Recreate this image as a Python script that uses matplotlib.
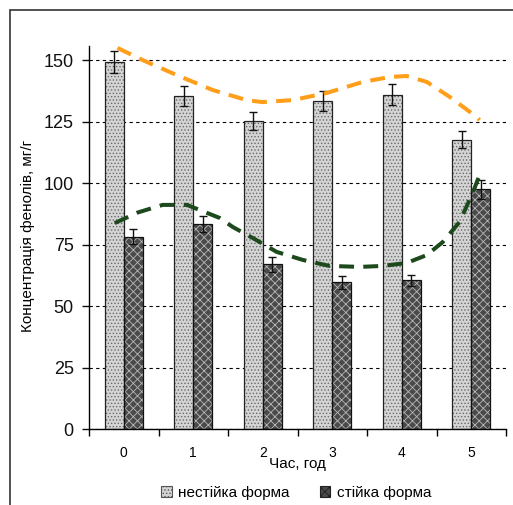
import numpy as np
import matplotlib
matplotlib.use('Agg')
import matplotlib.pyplot as plt
from matplotlib.patches import Patch, Rectangle

plt.rcParams['font.family'] = ['Liberation Sans', 'DejaVu Sans']
plt.rcParams['hatch.linewidth'] = 0.6

# ── Data ────────────────────────────────────────────────────────────────────
hours = [0, 1, 2, 3, 4, 5]
unstable = [149.2, 135.5, 125.2, 133.3, 135.9, 117.6]
unstable_err = [4.5, 4.0, 3.5, 4.0, 4.3, 3.5]
stable = [78.2, 83.3, 67.0, 59.6, 60.4, 97.4]
stable_err = [3.0, 3.4, 3.0, 2.6, 2.3, 3.8]

# trend lines
trend_unst_x = [-0.09, 0.27, 0.76, 1.28, 1.77, 1.99, 2.43, 2.92, 3.44, 3.83, 4.07, 4.36, 4.69, 5.08, 5.12]
trend_unst_y = [154.9, 150.0, 143.9, 137.8, 133.7, 132.9, 133.7, 136.6, 141.1, 143.1, 143.5, 141.1, 135.0, 126.8, 125.6]
trend_st_x = [-0.13, 0.2, 0.56, 0.91, 1.38, 1.57, 1.86, 2.20, 2.58, 2.96, 3.40, 3.73, 4.07, 4.36, 4.59, 4.83, 5.02, 5.12]
trend_st_y = [83.7, 88.0, 91.1, 91.1, 85.8, 82.1, 77.6, 72.0, 68.7, 66.3, 65.9, 66.3, 67.5, 70.7, 76.0, 84.1, 95.9, 103.3]

yticks = [0, 25, 50, 75, 100, 125, 150]

# ── Figure ──────────────────────────────────────────────────────────────────
fig = plt.figure(figsize=(5.13, 5.05), dpi=100)
fig.patches.append(Rectangle((10 / 513, -0.2), 1.2, 1.2 - 10 / 505, transform=fig.transFigure,
                             fill=False, edgecolor='#333333', lw=1.2))
ax = fig.add_axes([89 / 513, 1 - 429 / 505, (506 - 89) / 513, (429 - 46) / 505])

x = np.array(hours, dtype=float)
w = 0.27
ux, sx = x - w / 2, x + w / 2

# hatched fills, then outlines
ax.bar(ux, unstable, w, color='#d4d4d4', edgecolor='#6a6a6a', hatch='.....', lw=0, zorder=2)
ax.bar(ux, unstable, w, fill=False, edgecolor='#222222', lw=0.9, zorder=3)
ax.bar(sx, stable, w, color='#4a4a4a', edgecolor='#b8b8b8', hatch='xxxx', lw=0, zorder=2)
ax.bar(sx, stable, w, fill=False, edgecolor='#111111', lw=0.9, zorder=3)

ax.errorbar(ux, unstable, yerr=unstable_err, fmt='none', ecolor='#111111', elinewidth=1,
            capsize=3, capthick=1, zorder=4)
ax.errorbar(sx, stable, yerr=stable_err, fmt='none', ecolor='#111111', elinewidth=1,
            capsize=3, capthick=1, zorder=4)

ax.plot(trend_unst_x, trend_unst_y, color='#ff9e1b', lw=2.9, dashes=(3.7, 2.3), zorder=5)
ax.plot(trend_st_x, trend_st_y, color='#1c4a1c', lw=2.9, dashes=(3.7, 2.3), zorder=5)

ax.set_xlim(-0.5, 5.5)
ax.set_ylim(0, 155.7)
ax.set_yticks(yticks)
ax.set_yticklabels([str(t) for t in yticks], fontsize=13)
ax.yaxis.grid(True, color='black', ls=(0, (3, 3)), lw=0.8)
ax.set_axisbelow(True)
ax.tick_params(axis='y', length=5, width=1, pad=6, colors='#111111')

ax.set_xticks(np.arange(-0.5, 6, 1))
ax.set_xticklabels([])
ax.set_xticks(x, minor=True)
ax.set_xticklabels([str(h) for h in hours], minor=True, fontsize=10)
ax.tick_params(axis='x', which='major', length=5, width=1)
ax.tick_params(axis='x', which='minor', length=0, pad=12)

for s in ['top', 'right']:
    ax.spines[s].set_visible(False)
for s in ['left', 'bottom']:
    ax.spines[s].set_linewidth(1)

fig.text(297 / 513, 1 - 464 / 505, 'Час, год', ha='center', va='center', fontsize=11)
fig.text(28 / 513, 1 - 236 / 505, 'Концентрація фенолів, мг/г', ha='center', va='center',
         rotation=90, fontsize=11)

handles = [Patch(facecolor='#d4d4d4', edgecolor='#555555', hatch='.....', lw=0.8),
           Patch(facecolor='#4a4a4a', edgecolor='#222222', hatch='xxxx', lw=0.8)]
fig.legend(handles, ['нестійка форма', 'стійка форма'], loc='center',
           bbox_to_anchor=(296 / 513, 1 - 493 / 505), ncol=2, frameon=False, fontsize=11,
           handlelength=0.7, handleheight=0.7, handletextpad=0.4, columnspacing=2.0)

plt.savefig('out.png', dpi=100)
plt.close()
